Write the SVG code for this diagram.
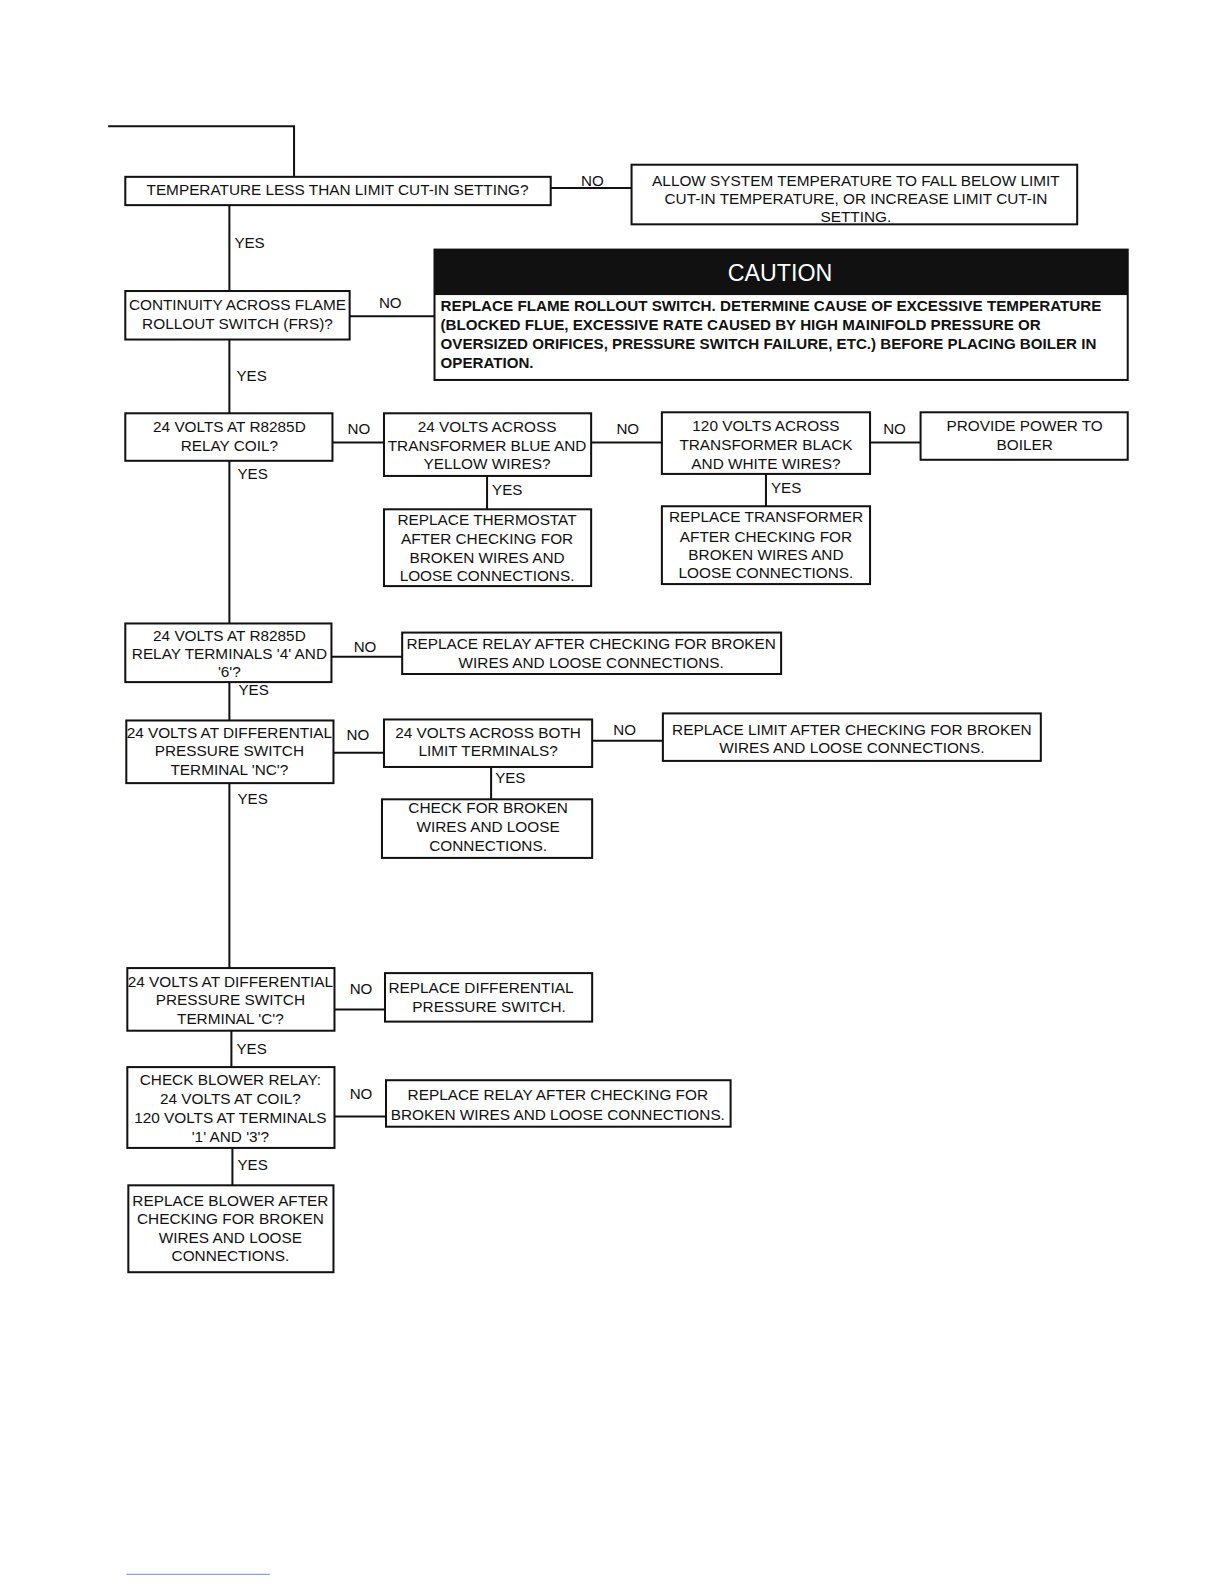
<svg xmlns="http://www.w3.org/2000/svg" width="1224" height="1584" viewBox="0 0 1224 1584">
<style>
.box{fill:#fff;stroke:#111;stroke-width:2}
.ln{fill:none;stroke:#111;stroke-width:2}
text{font-family:"Liberation Sans",Arial,sans-serif;font-size:15.2px;fill:#111}
.c{text-anchor:middle}
.lbl{font-size:15px}
.b{font-weight:bold;font-size:14.5px}
.cap{font-size:23px;fill:#fff;text-anchor:middle}
</style>
<rect width="1224" height="1584" fill="#fff"/>
<g transform="scale(1.0105)">
<g id="connectors">
<polyline class="ln" points="107,125 291,125 291,175"/>
<line class="ln" x1="545" y1="186" x2="625" y2="186"/>
<text class="lbl" x="575" y="184">NO</text>
<line class="ln" x1="227" y1="203" x2="227" y2="288"/>
<text class="lbl" x="232" y="245">YES</text>
<line class="ln" x1="346" y1="313" x2="430" y2="313"/>
<text class="lbl" x="375" y="305">NO</text>
<line class="ln" x1="227" y1="336" x2="227" y2="409"/>
<text class="lbl" x="234" y="377">YES</text>
<line class="ln" x1="329" y1="438" x2="380" y2="438"/>
<text class="lbl" x="344" y="429">NO</text>
<line class="ln" x1="585" y1="438" x2="655" y2="438"/>
<text class="lbl" x="610" y="429">NO</text>
<line class="ln" x1="861" y1="438" x2="911" y2="438"/>
<text class="lbl" x="874" y="429">NO</text>
<line class="ln" x1="482" y1="471" x2="482" y2="504"/>
<text class="lbl" x="487" y="490">YES</text>
<line class="ln" x1="758" y1="469" x2="758" y2="501"/>
<text class="lbl" x="763" y="488">YES</text>
<line class="ln" x1="227" y1="456" x2="227" y2="617"/>
<text class="lbl" x="235" y="474">YES</text>
<line class="ln" x1="328" y1="650" x2="398" y2="650"/>
<text class="lbl" x="350" y="645">NO</text>
<line class="ln" x1="227" y1="675" x2="227" y2="713"/>
<text class="lbl" x="236" y="688">YES</text>
<line class="ln" x1="330" y1="745" x2="380" y2="745"/>
<text class="lbl" x="343" y="732">NO</text>
<line class="ln" x1="586" y1="733" x2="656" y2="733"/>
<text class="lbl" x="607" y="727">NO</text>
<line class="ln" x1="486" y1="759" x2="486" y2="791"/>
<text class="lbl" x="490" y="775">YES</text>
<line class="ln" x1="227" y1="775" x2="227" y2="958"/>
<text class="lbl" x="235" y="796">YES</text>
<line class="ln" x1="331" y1="999" x2="381" y2="999"/>
<text class="lbl" x="346" y="984">NO</text>
<line class="ln" x1="229" y1="1020" x2="229" y2="1056"/>
<text class="lbl" x="234" y="1043">YES</text>
<line class="ln" x1="331" y1="1105" x2="382" y2="1105"/>
<text class="lbl" x="346" y="1088">NO</text>
<line class="ln" x1="230" y1="1136" x2="230" y2="1173"/>
<text class="lbl" x="235" y="1158">YES</text>
</g>
<g id="n1"><rect class="box" x="124" y="175" width="421" height="28"/>
<text class="c" x="334" y="193">TEMPERATURE LESS THAN LIMIT CUT-IN SETTING?</text></g>
<g id="n2"><rect class="box" x="625" y="163" width="441" height="59"/>
<text class="c" x="847" y="184">ALLOW SYSTEM TEMPERATURE TO FALL BELOW LIMIT</text>
<text class="c" x="847" y="202">CUT-IN TEMPERATURE, OR INCREASE LIMIT CUT-IN</text>
<text class="c" x="847" y="220">SETTING.</text></g>
<g id="n3"><rect class="box" x="124" y="288" width="222" height="48"/>
<text class="c" x="235" y="307">CONTINUITY ACROSS FLAME</text>
<text class="c" x="235" y="326">ROLLOUT SWITCH (FRS)?</text></g>
<g id="caution"><rect class="box" x="430" y="247" width="686" height="129"/>
<rect x="430" y="247" width="686" height="45" fill="#111"/>
<text class="cap" x="772" y="278">CAUTION</text>
<text class="b" x="436" y="308" textLength="654" lengthAdjust="spacingAndGlyphs">REPLACE FLAME ROLLOUT SWITCH. DETERMINE CAUSE OF EXCESSIVE TEMPERATURE</text>
<text class="b" x="436" y="327" textLength="594" lengthAdjust="spacingAndGlyphs">(BLOCKED FLUE, EXCESSIVE RATE CAUSED BY HIGH MAINIFOLD PRESSURE OR</text>
<text class="b" x="436" y="345" textLength="649" lengthAdjust="spacingAndGlyphs">OVERSIZED ORIFICES, PRESSURE SWITCH FAILURE, ETC.) BEFORE PLACING BOILER IN</text>
<text class="b" x="436" y="364" textLength="92" lengthAdjust="spacingAndGlyphs">OPERATION.</text></g>
<g id="n4"><rect class="box" x="124" y="409" width="205" height="47"/>
<text class="c" x="227" y="428">24 VOLTS AT R8285D</text>
<text class="c" x="227" y="446">RELAY COIL?</text></g>
<g id="n5"><rect class="box" x="380" y="409" width="205" height="62"/>
<text class="c" x="482" y="428">24 VOLTS ACROSS</text>
<text class="c" x="482" y="446">TRANSFORMER BLUE AND</text>
<text class="c" x="482" y="464">YELLOW WIRES?</text></g>
<g id="n6"><rect class="box" x="655" y="408" width="206" height="61"/>
<text class="c" x="758" y="427">120 VOLTS ACROSS</text>
<text class="c" x="758" y="445">TRANSFORMER BLACK</text>
<text class="c" x="758" y="464">AND WHITE WIRES?</text></g>
<g id="n7"><rect class="box" x="911" y="408" width="205" height="47"/>
<text class="c" x="1014" y="427">PROVIDE POWER TO</text>
<text class="c" x="1014" y="445">BOILER</text></g>
<g id="n8"><rect class="box" x="380" y="504" width="205" height="76"/>
<text class="c" x="482" y="520">REPLACE THERMOSTAT</text>
<text class="c" x="482" y="538">AFTER CHECKING FOR</text>
<text class="c" x="482" y="557">BROKEN WIRES AND</text>
<text class="c" x="482" y="575">LOOSE CONNECTIONS.</text></g>
<g id="n9"><rect class="box" x="655" y="501" width="206" height="77"/>
<text class="c" x="758" y="517">REPLACE TRANSFORMER</text>
<text class="c" x="758" y="536">AFTER CHECKING FOR</text>
<text class="c" x="758" y="554">BROKEN WIRES AND</text>
<text class="c" x="758" y="572">LOOSE CONNECTIONS.</text></g>
<g id="n10"><rect class="box" x="124" y="617" width="204" height="58"/>
<text class="c" x="227" y="634">24 VOLTS AT R8285D</text>
<text class="c" x="227" y="652">RELAY TERMINALS '4' AND</text>
<text class="c" x="227" y="670">'6'?</text></g>
<g id="n11"><rect class="box" x="398" y="626" width="375" height="41"/>
<text class="c" x="585" y="642">REPLACE RELAY AFTER CHECKING FOR BROKEN</text>
<text class="c" x="585" y="661">WIRES AND LOOSE CONNECTIONS.</text></g>
<g id="n12"><rect class="box" x="125" y="713" width="205" height="62"/>
<text class="c" x="227" y="730">24 VOLTS AT DIFFERENTIAL</text>
<text class="c" x="227" y="748">PRESSURE SWITCH</text>
<text class="c" x="227" y="767">TERMINAL 'NC'?</text></g>
<g id="n13"><rect class="box" x="380" y="712" width="206" height="47"/>
<text class="c" x="483" y="730">24 VOLTS ACROSS BOTH</text>
<text class="c" x="483" y="748">LIMIT TERMINALS?</text></g>
<g id="n14"><rect class="box" x="656" y="706" width="374" height="47"/>
<text class="c" x="843" y="727">REPLACE LIMIT AFTER CHECKING FOR BROKEN</text>
<text class="c" x="843" y="745">WIRES AND LOOSE CONNECTIONS.</text></g>
<g id="n15"><rect class="box" x="378" y="791" width="208" height="58"/>
<text class="c" x="483" y="805">CHECK FOR BROKEN</text>
<text class="c" x="483" y="823">WIRES AND LOOSE</text>
<text class="c" x="483" y="842">CONNECTIONS.</text></g>
<g id="n16"><rect class="box" x="126" y="958" width="205" height="62"/>
<text class="c" x="228" y="977">24 VOLTS AT DIFFERENTIAL</text>
<text class="c" x="228" y="995">PRESSURE SWITCH</text>
<text class="c" x="228" y="1013">TERMINAL 'C'?</text></g>
<g id="n17"><rect class="box" x="381" y="963" width="205" height="48"/>
<text class="c" x="476" y="983">REPLACE DIFFERENTIAL</text>
<text class="c" x="484" y="1001">PRESSURE SWITCH.</text></g>
<g id="n18"><rect class="box" x="126" y="1056" width="205" height="80"/>
<text class="c" x="228" y="1074">CHECK BLOWER RELAY:</text>
<text class="c" x="228" y="1093">24 VOLTS AT COIL?</text>
<text class="c" x="228" y="1111">120 VOLTS AT TERMINALS</text>
<text class="c" x="228" y="1130">'1' AND '3'?</text></g>
<g id="n19"><rect class="box" x="382" y="1069" width="341" height="46"/>
<text class="c" x="552" y="1089">REPLACE RELAY AFTER CHECKING FOR</text>
<text class="c" x="552" y="1108">BROKEN WIRES AND LOOSE CONNECTIONS.</text></g>
<g id="n20"><rect class="box" x="127" y="1173" width="203" height="86"/>
<text class="c" x="228" y="1193">REPLACE BLOWER AFTER</text>
<text class="c" x="228" y="1211">CHECKING FOR BROKEN</text>
<text class="c" x="228" y="1230">WIRES AND LOOSE</text>
<text class="c" x="228" y="1248">CONNECTIONS.</text></g>
<line x1="125" y1="1558" x2="267" y2="1558" stroke="#8f9fe0" stroke-width="1.2"/>
</g>
</svg>
